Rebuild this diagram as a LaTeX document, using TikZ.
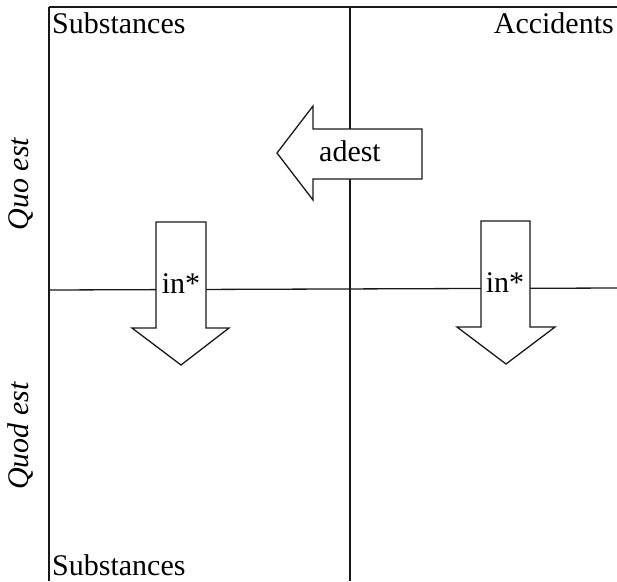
\documentclass[tikz,border=0pt]{standalone}
\usepackage{fontspec}
\setmainfont{Liberation Serif}
\begin{document}
\begin{tikzpicture}[x=1pt,y=-1pt,
  rule/.style={line width=1.3pt,black!90},
  bigarrow/.style={line width=1.3pt,black!90,fill=white,line join=miter},
  lbl/.style={inner sep=0pt,font=\fontsize{30}{36}\selectfont},
  side/.style={inner sep=0pt,font=\fontsize{30}{36}\selectfont\itshape,rotate=90,anchor=base}]
\useasboundingbox (0,0) rectangle (617,581);
% frame coordinates
\coordinate (tl) at (49,7);
\coordinate (tr) at (617,7);
\coordinate (bl) at (49,581);
\coordinate (tm) at (350,7);
\coordinate (bm) at (350,581);
\coordinate (ml) at (49,290);
\coordinate (mr) at (617,288);
\draw[rule] (tl) -- (tr);
\draw[rule] (tl) -- (bl);
\draw[rule] (tm) -- (bm);
\draw[rule] (ml) -- (mr);
% arrows
\draw[bigarrow] (277,153) -- (313,106) -- (313,129) -- (422,129) -- (422,179) -- (313,179) -- (313,200) -- cycle;
\draw[bigarrow] (156,222) -- (206,222) -- (206,328) -- (229,328) -- (181,365) -- (132,328) -- (156,328) -- cycle;
\draw[bigarrow] (481,221) -- (530,221) -- (530,327) -- (555,327) -- (506,364) -- (457,327) -- (481,327) -- cycle;
% labels
\node[lbl,anchor=base] (adest) at (350,161) {adest};
\node[lbl,anchor=base] (inL) at (181,293) {in*};
\node[lbl,anchor=base] (inR) at (505,292) {in*};
\node[lbl,anchor=base west] (subT) at (52,33) {Substances};
\node[lbl,anchor=base east] (acc) at (614,33) {Accidents};
\node[lbl,anchor=base west] (subB) at (52,575) {Substances};
\node[side] (quo) at (28,184) {Quo est};
\node[side] (quod) at (28,436) {Quod est};
\end{tikzpicture}
\end{document}
